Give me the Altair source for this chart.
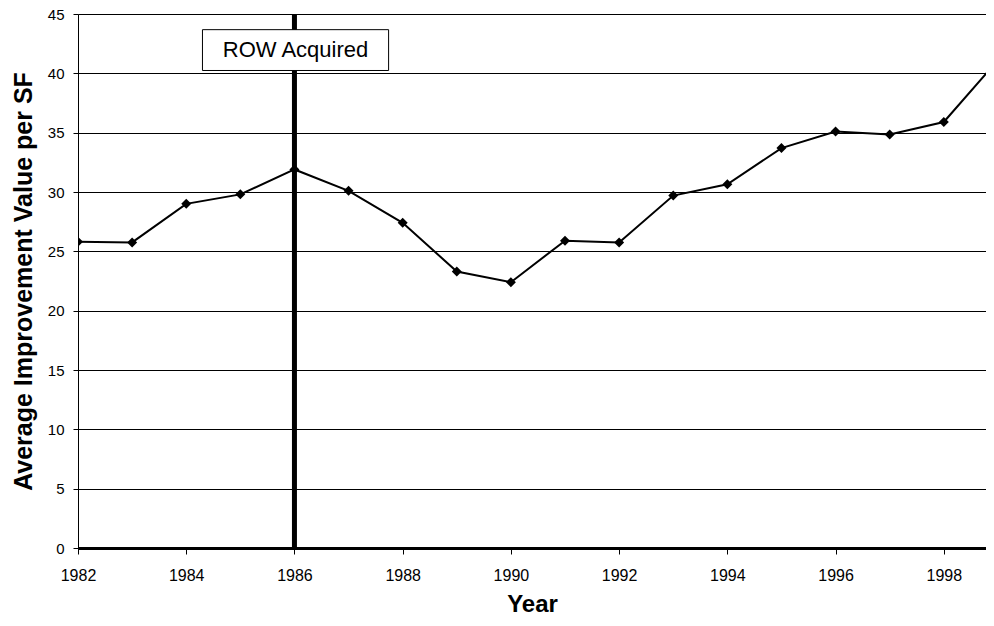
import altair as alt
import pandas as pd

years = list(range(1982, 2000))
values = [25.8, 25.75, 29.0, 29.8, 31.9, 30.1, 27.4, 23.3, 22.4, 25.9, 25.75,
          29.7, 30.65, 33.7, 35.1, 34.85, 35.9, 41.1]
event_year = [1986]
event_label = ["ROW Acquired"]
box_x = [1984.30, 1987.74]
box_y = [40.24, 43.68]

df = pd.DataFrame({"Year": years, "Value": values})
ev = pd.DataFrame({"Year": event_year})
box = pd.DataFrame({"x": [box_x[0]], "x2": [box_x[1]], "y": [box_y[0]], "y2": [box_y[1]],
                    "xm": [(box_x[0] + box_x[1]) / 2], "ym": [(box_y[0] + box_y[1]) / 2],
                    "label": event_label})

W, H = 908, 534
xscale = alt.Scale(domain=[1982, 1998.78], nice=False, zero=False)
yscale = alt.Scale(domain=[0, 45], nice=False)

xaxis = alt.Axis(title="Year", values=list(range(1982, 1999, 2)), format="d",
                 grid=False, tickSize=6, tickColor="black", labelPadding=13,
                 labelFont="Liberation Sans", labelFontSize=16, labelColor="black",
                 titleFont="Liberation Sans", titleFontSize=24, titleFontWeight="bold",
                 titleColor="black", titlePadding=9, domainColor="black", domainWidth=3,
                 labelFlush=False)
yaxis = alt.Axis(title="Average Improvement Value per SF", values=list(range(0, 46, 5)),
                 grid=True, gridColor="black", gridOpacity=1, gridWidth=1,
                 tickSize=5, tickColor="black", labelPadding=9,
                 labelFont="Liberation Sans", labelFontSize=15, labelColor="black",
                 titleFont="Liberation Sans", titleFontSize=25, titleFontWeight="bold",
                 titleColor="black", titlePadding=11, domainColor="black", domainWidth=1)

line = alt.Chart(df).mark_line(color="black", strokeWidth=2, clip=True).encode(
    x=alt.X("Year:Q", scale=xscale, axis=xaxis),
    y=alt.Y("Value:Q", scale=yscale, axis=yaxis),
)
pts = alt.Chart(df).mark_point(shape="diamond", filled=True, color="black", size=100,
                               opacity=1, clip=True).encode(
    x=alt.X("Year:Q", scale=xscale),
    y=alt.Y("Value:Q", scale=yscale),
)
rule = alt.Chart(ev).mark_rule(color="black", strokeWidth=5).encode(
    x=alt.X("Year:Q", scale=xscale),
)
rect = alt.Chart(box).mark_rect(fill="white", stroke="black", strokeWidth=1).encode(
    x=alt.X("x:Q", scale=xscale), x2="x2", y=alt.Y("y:Q", scale=yscale), y2="y2",
)
txt = alt.Chart(box).mark_text(font="Liberation Sans", fontSize=22, color="black").encode(
    x=alt.X("xm:Q", scale=xscale), y=alt.Y("ym:Q", scale=yscale), text="label:N",
)

chart = alt.layer(line, rule, pts, rect, txt).properties(
    width=W, height=H,
    autosize=alt.AutoSizeParams(type="none"),
    padding={"left": 70, "top": 6, "right": 0, "bottom": 70},
).configure_view(stroke=None).configure(background="white")

chart.save("out.html", embed_options={"renderer": "svg", "actions": False})
